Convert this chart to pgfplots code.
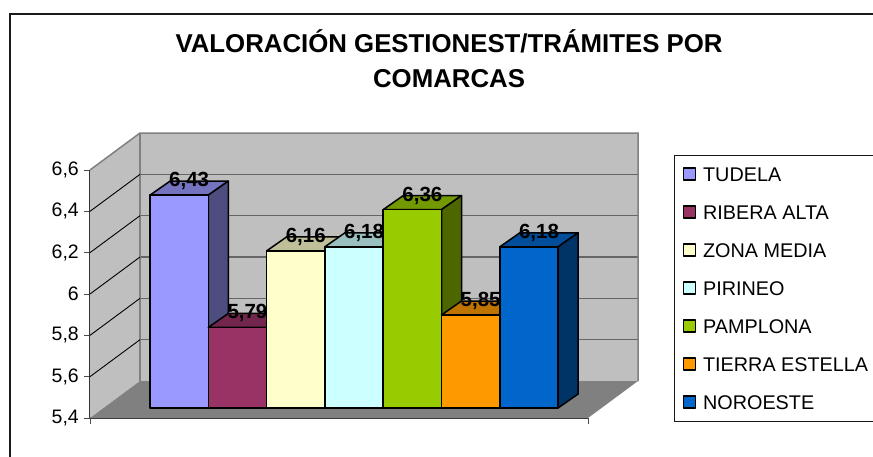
\documentclass[border=0pt]{standalone}
\usepackage{fontspec}
\setmainfont{Liberation Sans}
\usepackage{pgfplots}
\pgfplotsset{compat=1.18}

% colours: front, top and side of each bar
\definecolor{tudF}{HTML}{9999FF}\definecolor{tudT}{HTML}{7373BF}\definecolor{tudS}{HTML}{4D4D80}
\definecolor{ribF}{HTML}{993366}\definecolor{ribT}{HTML}{73264D}\definecolor{ribS}{HTML}{4D1A33}
\definecolor{zonF}{HTML}{FFFFCC}\definecolor{zonT}{HTML}{BFBF99}\definecolor{zonS}{HTML}{808066}
\definecolor{pirF}{HTML}{CCFFFF}\definecolor{pirT}{HTML}{99BFBF}\definecolor{pirS}{HTML}{668080}
\definecolor{pamF}{HTML}{99CC00}\definecolor{pamT}{HTML}{739900}\definecolor{pamS}{HTML}{4D6600}
\definecolor{tieF}{HTML}{FF9900}\definecolor{tieT}{HTML}{BF7300}\definecolor{tieS}{HTML}{804D00}
\definecolor{norF}{HTML}{0066CC}\definecolor{norT}{HTML}{004D99}\definecolor{norS}{HTML}{003366}

\pgfplotsset{
  inbar/.style={xshift=10pt,yshift=10pt},
  edge/.style={draw=black,line width=1.5pt,line join=round},
}

% one 3D bar: #1 centre x, #2 value, #3 colour prefix, #4 legend name
\newcommand{\threedbar}[4]{%
  \pgfmathsetmacro{\xl}{#1-29.15}%
  \pgfmathsetmacro{\xr}{#1+29.15}%
  \pgfmathsetmacro{\xlb}{\xl+20}%
  \pgfmathsetmacro{\xrb}{\xr+20}%
  \pgfmathsetmacro{\vb}{#2+0.0677}%
  \addplot[inbar,edge,fill=#3T,forget plot] coordinates {(\xl,#2) (\xlb,\vb) (\xrb,\vb) (\xr,#2)} -- cycle;
  \addplot[inbar,edge,fill=#3S,forget plot] coordinates {(\xr,5.4) (\xrb,5.4677) (\xrb,\vb) (\xr,#2)} -- cycle;
  \addplot[inbar,ybar,bar width=58.3,bar shift=0pt,edge,fill=#3F,forget plot] coordinates {(#1,#2)};
  \addlegendimage{edge,fill=#3F}
  \addlegendentry{#4}
}

\begin{document}
\begin{tikzpicture}[x=1pt,y=1pt]
\useasboundingbox (0,0) rectangle (873,456);
\draw[line width=2pt,draw=black!90] (10,-10) -- (10,442) -- (885,442);
\begin{axis}[
  at={(90pt,38pt)},
  anchor=origin,
  scale only axis,
  width=498pt,
  height=248pt,
  xmin=90, xmax=588,
  ymin=5.4, ymax=6.6,
  clip=false,
  axis lines=left,
  axis line style={-,draw=black!80,line width=1.5pt},
  tick align=outside,
  tick style={draw=black!70,line width=1pt},
  major tick length=6pt,
  xtick={90,588},
  xticklabels={},
  ytick={5.4,5.6,5.8,6,6.2,6.4,6.6},
  /pgf/number format/.cd,fixed,use comma,precision=1,assume math mode=true,
  /pgfplots/.cd,
  yticklabel style={font=\fontsize{19.5}{20}\selectfont,inner sep=0pt,xshift=-5pt},
  title={VALORACIÓN GESTIONEST/TRÁMITES POR\\COMARCAS},
  title style={at={(0.721,1.543)},anchor=north,align=center,yshift=0pt,inner sep=0pt,
    font=\fontsize{25.8}{35}\bfseries\selectfont},
  legend cell align=left,
  legend image code/.code={\draw[#1] (0pt,-6pt) rectangle (12pt,6pt);},
  legend style={
    at={(axis cs:674,6.675)},anchor=north west,
    draw=black!90,line width=1.2pt,
    font=\fontsize{19.8}{20}\selectfont,
    inner xsep=8pt,inner ysep=12pt,
    row sep=24pt,
    nodes={inner sep=0pt,text height=14pt,text depth=0pt},
    /tikz/column 1/.style={column sep=7pt},
  },
  legend columns=1,
]
% walls and floor
\addplot[fill=black!25,draw=none,forget plot] coordinates {(90,5.4) (140,5.579) (638,5.579) (638,6.779) (140,6.779) (90,6.6)} -- cycle;
\addplot[fill=black!50,draw=none,forget plot] coordinates {(90,5.4) (588,5.4) (638,5.579) (140,5.579)} -- cycle;
% back wall grid
\addplot[black!60,line width=1.5pt,forget plot] coordinates {(140,5.779) (638,5.779)};
\addplot[black!60,line width=1.5pt,forget plot] coordinates {(140,5.979) (638,5.979)};
\addplot[black!60,line width=1.5pt,forget plot] coordinates {(140,6.179) (638,6.179)};
\addplot[black!60,line width=1.5pt,forget plot] coordinates {(140,6.379) (638,6.379)};
\addplot[black!60,line width=1.5pt,forget plot] coordinates {(140,6.579) (638,6.579)};
% wall outline
\addplot[black!50,line width=1.5pt,forget plot] coordinates {(90,6.6) (140,6.779) (638,6.779) (638,5.579)};
\addplot[black!50,line width=1.5pt,forget plot] coordinates {(140,6.779) (140,5.579)};
% left wall grid
\addplot[black,line width=0.9pt,forget plot] coordinates {(90,5.6) (140,5.779)};
\addplot[black,line width=0.9pt,forget plot] coordinates {(90,5.8) (140,5.979)};
\addplot[black,line width=0.9pt,forget plot] coordinates {(90,6) (140,6.179)};
\addplot[black,line width=0.9pt,forget plot] coordinates {(90,6.2) (140,6.379)};
\addplot[black,line width=0.9pt,forget plot] coordinates {(90,6.4) (140,6.579)};
% bars
\threedbar{169.15}{6.43}{tud}{TUDELA}
\threedbar{227.45}{5.79}{rib}{RIBERA ALTA}
\threedbar{285.75}{6.16}{zon}{ZONA MEDIA}
\threedbar{344.05}{6.18}{pir}{PIRINEO}
\threedbar{402.35}{6.36}{pam}{PAMPLONA}
\threedbar{460.65}{5.85}{tie}{TIERRA ESTELLA}
\threedbar{518.95}{6.18}{nor}{NOROESTE}
% value labels, above everything
\addplot[draw=none,mark=none,xshift=20pt,yshift=24pt,forget plot,
  point meta=y,
  nodes near coords={\pgfmathprintnumber[fixed,use comma,zerofill,precision=2]{\pgfplotspointmeta}},
  every node near coord/.style={anchor=center,inner sep=0pt,
    font=\fontsize{20.5}{21}\bfseries\selectfont}]
  coordinates {(169.15,6.43) (227.45,5.79) (285.75,6.16) (344.05,6.18) (402.35,6.36) (460.65,5.85) (518.95,6.18)};
\end{axis}
\end{tikzpicture}
\end{document}
